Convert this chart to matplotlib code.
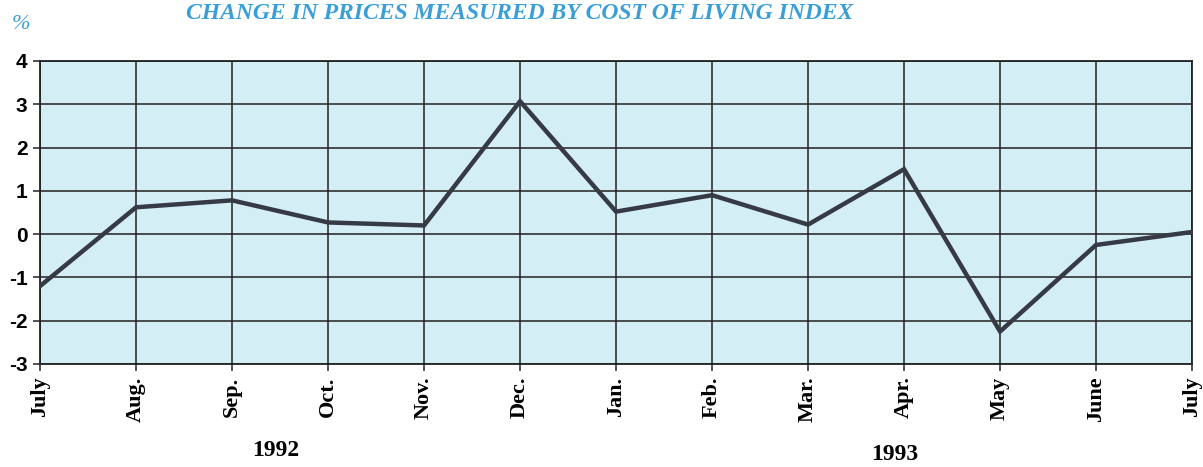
import numpy as np
import matplotlib.pyplot as plt

months = ["July", "Aug.", "Sep.", "Oct.", "Nov.", "Dec.", "Jan.",
          "Feb.", "Mar.", "Apr.", "May", "June", "July"]
change = [-1.2, 0.62, 0.78, 0.27, 0.2, 3.07, 0.52, 0.9, 0.22, 1.5, -2.25, -0.25, 0.05]
yticks = [-3, -2, -1, 0, 1, 2, 3, 4]

blue = "#3a9fd8"

fig = plt.figure(figsize=(12.03, 4.67), dpi=100)
ax = fig.add_axes([0.0333, 0.2206, 0.9576, 0.6488])
ax.set_facecolor("#d3eef5")

x = np.arange(len(months))
ax.plot(x, change, color="#353a45", lw=3.2, solid_joinstyle="miter", zorder=3)

ax.set_xlim(0, len(months) - 1)
ax.set_ylim(-3, 4)
ax.set_xticks(x)
ax.set_xticklabels(months, rotation=90, family="Liberation Serif",
                   fontweight="bold", fontsize=16)
ax.set_yticks(yticks)
ax.set_yticklabels([str(v) for v in yticks], family="Liberation Sans",
                   fontweight="bold", fontsize=15)
ax.grid(True, color="#222222", lw=1.1, zorder=1)
ax.set_axisbelow(True)
for s in ax.spines.values():
    s.set_color("#222222")
    s.set_linewidth(1.3)
ax.tick_params(length=5, width=1.1, color="#222222", pad=4)

# titel + labels
fig.text(0.432, 0.972, "CHANGE IN PRICES MEASURED BY COST OF LIVING INDEX",
         ha="center", va="center", color=blue, family="Liberation Serif",
         style="italic", fontweight="bold", fontsize=17)
fig.text(0.0175, 0.948, "%", ha="center", va="center", color=blue,
         family="Liberation Serif", style="italic", fontsize=16)
fig.text(0.229, 0.036, "1992", ha="center", va="center",
         family="Liberation Serif", fontweight="bold", fontsize=17)
fig.text(0.744, 0.027, "1993", ha="center", va="center",
         family="Liberation Serif", fontweight="bold", fontsize=17)

fig.savefig("out.png", dpi=100)
